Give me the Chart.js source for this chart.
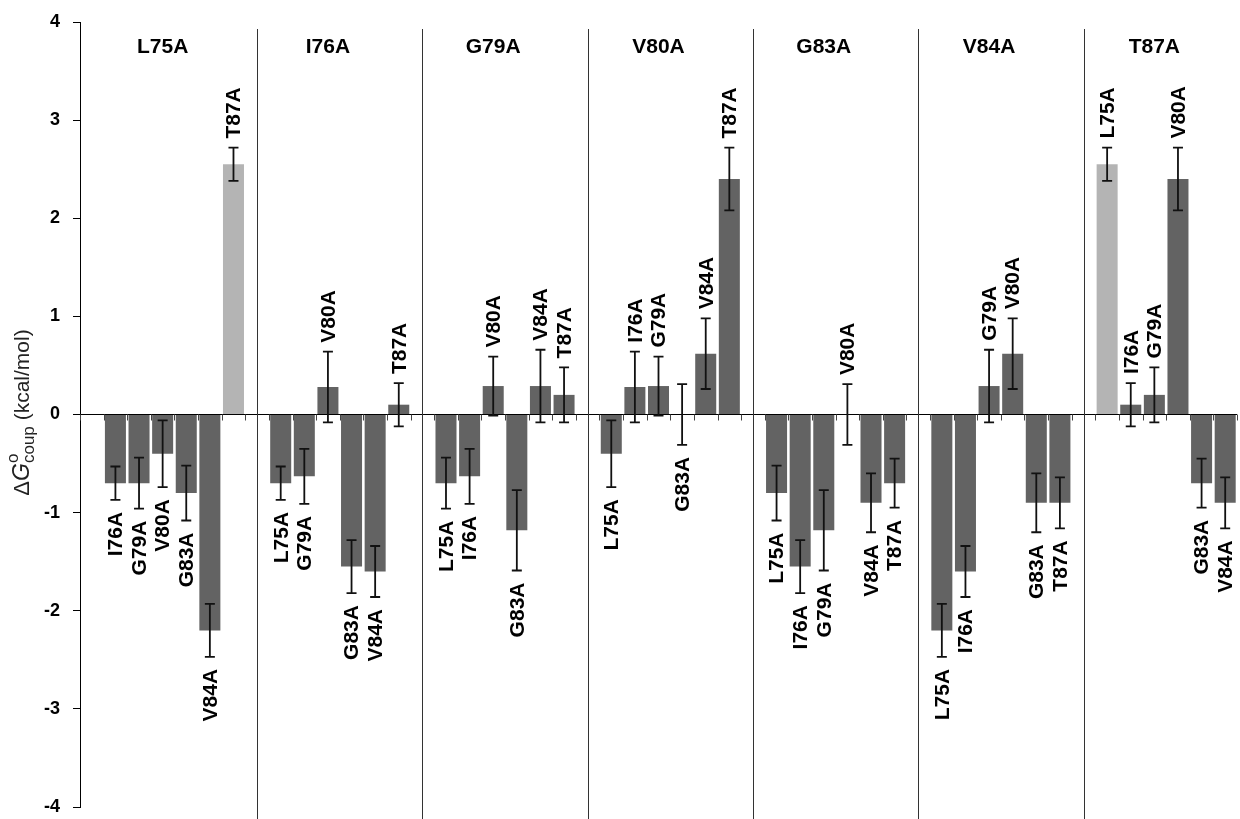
<!DOCTYPE html>
<html>
<head>
<meta charset="utf-8">
<script src="https://cdn.jsdelivr.net/npm/chart.js@4.4.1/dist/chart.umd.min.js"></script>
<style>
  html, body { margin: 0; padding: 0; background: #fff; }
  #wrap { width: 1240px; height: 819px; position: relative; }
</style>
</head>
<body>
<div id="wrap"><canvas id="chart"></canvas></div>
<script>
const mutants = ["L75A", "I76A", "G79A", "V80A", "G83A", "V84A", "T87A"];

// coupling energy (kcal/mol) of each group's mutant with the other six, in mutant order
const couplingL75A = [-0.70, -0.70, -0.40, -0.80, -2.20, 2.55];
const errorL75A = [0.17, 0.26, 0.34, 0.28, 0.27, 0.17];

const couplingI76A = [-0.70, -0.63, 0.28, -1.55, -1.60, 0.10];
const errorI76A = [0.17, 0.28, 0.36, 0.27, 0.26, 0.22];

const couplingG79A = [-0.70, -0.63, 0.29, -1.18, 0.29, 0.20];
const errorG79A = [0.26, 0.28, 0.30, 0.41, 0.37, 0.28];

const couplingV80A = [-0.40, 0.28, 0.29, 0.00, 0.62, 2.40];
const errorV80A = [0.34, 0.36, 0.30, 0.31, 0.36, 0.32];

const couplingG83A = [-0.80, -1.55, -1.18, 0.00, -0.90, -0.70];
const errorG83A = [0.28, 0.27, 0.41, 0.31, 0.30, 0.25];

const couplingV84A = [-2.20, -1.60, 0.29, 0.62, -0.90, -0.90];
const errorV84A = [0.27, 0.26, 0.37, 0.36, 0.30, 0.26];

const couplingT87A = [2.55, 0.10, 0.20, 2.40, -0.70, -0.90];
const errorT87A = [0.17, 0.22, 0.28, 0.32, 0.25, 0.26];

const highlightPair = ["L75A", "T87A"];
const yTickValues = [-4, -3, -2, -1, 0, 1, 2, 3, 4];

const DARK = "#636363";
const LIGHT = "#b4b4b4";
const FONT = "'Liberation Sans', Arial, sans-serif";

const groups = [
  { name: "L75A", values: couplingL75A, errors: errorL75A },
  { name: "I76A", values: couplingI76A, errors: errorI76A },
  { name: "G79A", values: couplingG79A, errors: errorG79A },
  { name: "V80A", values: couplingV80A, errors: errorV80A },
  { name: "G83A", values: couplingG83A, errors: errorG83A },
  { name: "V84A", values: couplingV84A, errors: errorV84A },
  { name: "T87A", values: couplingT87A, errors: errorT87A },
];

// one empty slot in front of every group, then its six partners
const labels = [];
const values = [];
const errors = [];
const groupIdx = [];
const partnerIdx = [];
groups.forEach((g, gi) => {
  labels.push("");
  values.push(null);
  errors.push(null);
  groupIdx.push(gi);
  partnerIdx.push(null);
  mutants.filter((m) => m !== g.name).forEach((p, k) => {
    labels.push(p);
    values.push(g.values[k]);
    errors.push(g.errors[k]);
    groupIdx.push(gi);
    partnerIdx.push(mutants.indexOf(p));
  });
});

const colors = labels.map((p, i) => {
  const pair = [groups[groupIdx[i]].name, p];
  return highlightPair.every((m) => pair.includes(m)) ? LIGHT : DARK;
});

const overlay = {
  id: "overlay",
  beforeDatasetsDraw(chart) {
    const { ctx, scales: { x, y } } = chart;
    const y0 = y.getPixelForValue(0);
    const slot = x.width / labels.length;
    ctx.save();
    // small category ticks hanging from the zero line
    ctx.strokeStyle = "#444";
    ctx.lineWidth = 1;
    for (let i = 0; i <= labels.length; i++) {
      const px = Math.round(x.left + i * slot) + 0.5;
      ctx.beginPath();
      ctx.moveTo(px, y0);
      ctx.lineTo(px, y0 + 6);
      ctx.stroke();
    }
    // separators between the groups
    ctx.strokeStyle = "#333";
    for (let gi = 1; gi < groups.length; gi++) {
      const px = Math.round(x.getPixelForValue(gi * 7)) + 0.5;
      ctx.beginPath();
      ctx.moveTo(px, y.top + 7);
      ctx.lineTo(px, chart.height);
      ctx.stroke();
    }
    ctx.restore();
  },
  afterDatasetsDraw(chart) {
    const { ctx, scales: { x, y } } = chart;
    ctx.save();

    // error bars
    ctx.strokeStyle = "#111";
    ctx.lineWidth = 1.8;
    values.forEach((v, i) => {
      if (v === null) return;
      const px = x.getPixelForValue(i);
      const top = y.getPixelForValue(v + errors[i]);
      const bot = y.getPixelForValue(v - errors[i]);
      ctx.beginPath();
      ctx.moveTo(px, top);
      ctx.lineTo(px, bot);
      ctx.moveTo(px - 5, top);
      ctx.lineTo(px + 5, top);
      ctx.moveTo(px - 5, bot);
      ctx.lineTo(px + 5, bot);
      ctx.stroke();
    });

    // partner names, written upwards next to the error bar
    ctx.fillStyle = "#000";
    ctx.font = "bold 21px " + FONT;
    ctx.textBaseline = "middle";
    values.forEach((v, i) => {
      if (v === null) return;
      // zero bars: label goes to the side of the later mutant in the sequence
      const above = v > 0 || (v === 0 && partnerIdx[i] < groupIdx[i]);
      const px = x.getPixelForValue(i);
      ctx.save();
      if (above) {
        ctx.translate(px, y.getPixelForValue(v + errors[i]) - 9);
        ctx.textAlign = "left";
      } else {
        ctx.translate(px, y.getPixelForValue(v - errors[i]) + 12);
        ctx.textAlign = "right";
      }
      ctx.rotate(-Math.PI / 2);
      ctx.fillText(labels[i], 0, 1);
      ctx.restore();
    });

    // group names along the top
    ctx.textAlign = "center";
    ctx.textBaseline = "alphabetic";
    groups.forEach((g, gi) => {
      ctx.fillText(g.name, x.getPixelForValue(gi * 7 + 3), 53);
    });

    // y axis title: ΔG°coup (kcal/mol)
    const parts = [
      { t: "\u0394", f: "22px " + FONT, dy: 0 },
      { t: "G", f: "italic 23px " + FONT, dy: 0 },
      { t: "o", f: "17px " + FONT, dy: -11, stack: true },
      { t: "coup", f: "17px " + FONT, dy: 5 },
      { t: " (kcal/mol)", f: "21px " + FONT, dy: 0 },
    ];
    let total = 0;
    parts.forEach((p) => {
      ctx.font = p.f;
      p.w = ctx.measureText(p.t).width;
      if (!p.stack) total += p.w;
    });
    ctx.translate(29, (y.top + y.bottom) / 2 - 2);
    ctx.rotate(-Math.PI / 2);
    ctx.textAlign = "left";
    ctx.fillStyle = "#222";
    let cx = -total / 2;
    parts.forEach((p) => {
      ctx.font = p.f;
      ctx.fillText(p.t, cx, p.dy);
      if (!p.stack) cx += p.w;
    });
    ctx.restore();
  },
};

new Chart(document.getElementById("chart"), {
  type: "bar",
  data: {
    labels: labels,
    datasets: [{
      data: values,
      backgroundColor: colors,
      borderWidth: 0,
      barPercentage: 0.89,
      categoryPercentage: 1.0,
    }],
  },
  options: {
    responsive: true,
    maintainAspectRatio: false,
    animation: false,
    layout: { padding: { top: 22, bottom: 12, left: 0, right: 3 } },
    plugins: {
      legend: { display: false },
      tooltip: { enabled: false },
    },
    scales: {
      x: { display: false },
      y: {
        min: -4,
        max: 4,
        afterBuildTicks: (scale) => {
          scale.ticks = yTickValues.map((v) => ({ value: v }));
        },
        afterFit: (scale) => {
          scale.width = 80;
          scale.paddingTop = 0;
          scale.paddingBottom = 0;
        },
        border: { display: true, color: "#000", width: 1 },
        grid: {
          color: (c) => (c.tick && c.tick.value === 0 ? "#000" : "rgba(0,0,0,0)"),
          tickColor: "#000",
          tickLength: 7,
          lineWidth: 1,
        },
        ticks: {
          padding: 13,
          color: "#000",
          font: { family: FONT, size: 18, weight: "bold" },
        },
      },
    },
  },
  plugins: [overlay],
});
</script>
</body>
</html>
